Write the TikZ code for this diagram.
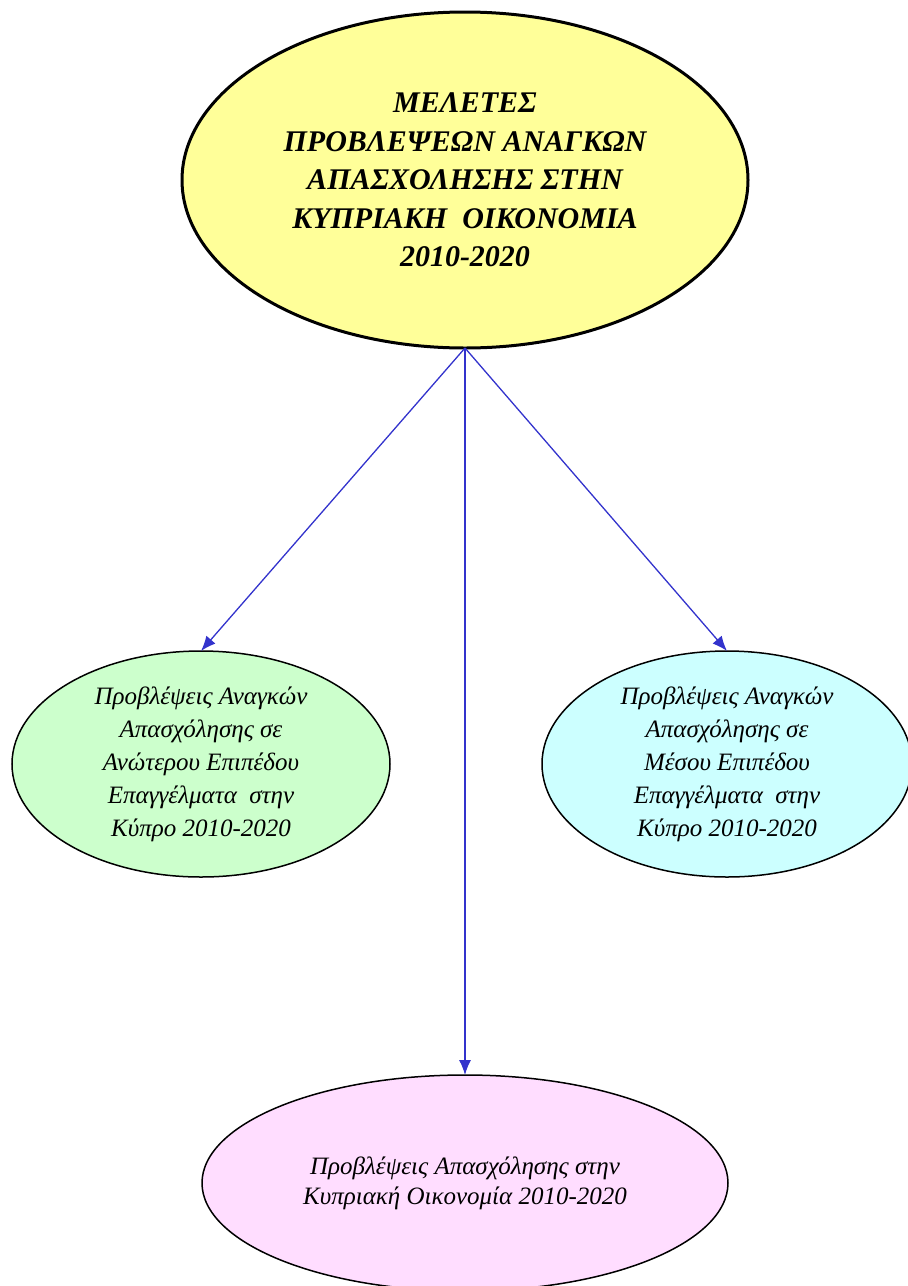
\documentclass[tikz,border=0pt]{standalone}
\usepackage{fontspec}
\setmainfont{Liberation Serif}
\usetikzlibrary{positioning,shapes.geometric,arrows.meta}
\definecolor{topfill}{HTML}{FFFF99}
\definecolor{greenfill}{HTML}{CCFFCC}
\definecolor{cyanfill}{HTML}{CCFFFF}
\definecolor{pinkfill}{HTML}{FFDDFF}
\definecolor{linkblue}{HTML}{3333CC}

\begin{document}
\begin{tikzpicture}[x=1pt,y=-1pt,
				every node/.style={oval},
				oval/.style={ellipse,draw,inner sep=0pt,outer sep=0pt,align=center,font=\itshape\fontsize{25}{33}\selectfont},
				link/.style={draw=linkblue,-{Latex[length=15pt,width=12pt]},line width=1.3pt}]
				\useasboundingbox (0,0) rectangle (908,1286);
				\node (MAIN)  [fill=topfill,line width=3pt,minimum width=566pt,minimum height=336pt,
				               font=\bfseries\itshape\fontsize{30}{38.5}\selectfont] at (465,180)
				               {ΜΕΛΕΤΕΣ\\ΠΡΟΒΛΕΨΕΩΝ ΑΝΑΓΚΩΝ\\ΑΠΑΣΧΟΛΗΣΗΣ ΣΤΗΝ\\ΚΥΠΡΙΑΚΗ \ ΟΙΚΟΝΟΜΙΑ\\2010-2020};
				\node (HIGH)  [fill=greenfill,line width=1.5pt,minimum width=378pt,minimum height=226pt] at (201,764)
				               {Προβλέψεις Αναγκών\\Απασχόλησης σε\\Ανώτερου Επιπέδου\\Επαγγέλματα \ στην\\Κύπρο 2010-2020};
				\node (MID)   [fill=cyanfill,line width=1.5pt,minimum width=370pt,minimum height=226pt] at (727,764)
				               {Προβλέψεις Αναγκών\\Απασχόλησης σε\\Μέσου Επιπέδου\\Επαγγέλματα \ στην\\Κύπρο 2010-2020};
				\node (TOTAL) [fill=pinkfill,line width=1.5pt,minimum width=526pt,minimum height=216pt,
				               font=\itshape\fontsize{25}{30}\selectfont] at (465,1183)
				               {Προβλέψεις Απασχόλησης στην\\Κυπριακή Οικονομία 2010-2020};

				\draw[link] (MAIN.south) -- (HIGH.north);
				\draw[link] (MAIN.south) -- (MID.north);
				\draw[link] (MAIN.south) -- (TOTAL.north);
			\end{tikzpicture}
\end{document}
